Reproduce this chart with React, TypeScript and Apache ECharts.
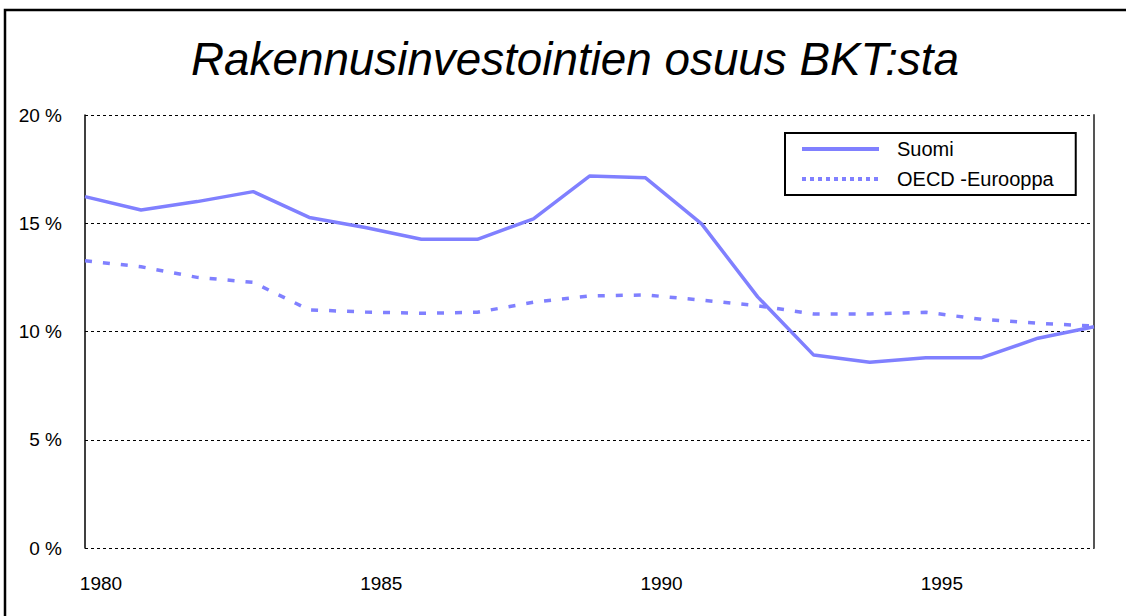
import React, { useEffect, useRef } from "react";
import * as echarts from "echarts";

const years = [
  "1980", "1981", "1982", "1983", "1984", "1985", "1986", "1987", "1988", "1989",
  "1990", "1991", "1992", "1993", "1994", "1995", "1996", "1997", "1998",
];
const suomi = [
  16.23, 15.61, 16.0, 16.46, 15.27, 14.8, 14.26, 14.26, 15.2, 17.18,
  17.1, 14.97, 11.6, 8.91, 8.58, 8.79, 8.79, 9.69, 10.22,
];
const oecd = [
  13.27, 12.99, 12.5, 12.27, 11.0, 10.9, 10.84, 10.89, 11.35, 11.64,
  11.69, 11.45, 11.19, 10.81, 10.81, 10.89, 10.56, 10.38, 10.25,
];
const seriesNames = ["Suomi", "OECD -Eurooppa"];
const title = "Rakennusinvestointien osuus BKT:sta";

const FONT = "'Liberation Sans', Arial, sans-serif";
const LINE = "#8080FF";

export default function App() {
  const ref = useRef<HTMLDivElement>(null);
  useEffect(() => {
    if (!ref.current) return;
    const chart = echarts.init(ref.current, null, { renderer: "svg" });
    chart.setOption({
      animation: false,
      backgroundColor: "#ffffff",
      title: {
        text: title,
        left: 191,
        top: 36,
        padding: 0,
        textStyle: {
          fontFamily: FONT,
          fontStyle: "italic",
          fontWeight: "normal",
          fontSize: 45.8,
          color: "#000",
        },
      },
      graphic: [
        {
          type: "rect",
          shape: { x: 5, y: 10, width: 1300, height: 800 },
          style: { fill: "none", stroke: "#000", lineWidth: 2.5 },
          silent: true,
        },
      ],
      legend: {
        orient: "vertical",
        left: 785,
        top: 133,
        backgroundColor: "#fff",
        borderColor: "#000",
        borderWidth: 2,
        borderRadius: 0,
        padding: [6, 22, 6, 15],
        itemGap: 10,
        itemWidth: 77,
        itemHeight: 20,
        textStyle: {
          fontFamily: FONT,
          fontSize: 20,
          color: "#000",
          padding: [0, 0, 0, 13],
        },
        data: [
          {
            name: seriesNames[0],
            itemStyle: { opacity: 0 },
            lineStyle: { width: 4, type: "solid", color: LINE },
          },
          {
            name: seriesNames[1],
            itemStyle: { opacity: 0 },
            lineStyle: { width: 4, type: [4, 4], color: LINE },
          },
        ],
      },
      grid: { left: 85, right: 32, top: 115, bottom: 68, containLabel: false },
      xAxis: {
        type: "category",
        data: years,
        boundaryGap: false,
        axisLine: { show: false },
        axisTick: { show: false },
        splitLine: { show: false },
        axisLabel: {
          interval: (idx: number) => idx % 5 === 0,
          fontFamily: FONT,
          fontSize: 19,
          color: "#000",
          margin: 26,
          padding: [0, 0, 0, 32],
          hideOverlap: false,
        },
      },
      yAxis: [
        {
          type: "value",
          min: 0,
          max: 20,
          interval: 5,
          axisLine: { show: true, lineStyle: { color: "#000", width: 1.5 } },
          axisTick: { show: false },
          splitLine: { show: true, lineStyle: { color: "#000", width: 1, type: [3, 3] } },
          axisLabel: {
            formatter: "{value} %",
            fontFamily: FONT,
            fontSize: 19,
            color: "#000",
            margin: 23,
          },
        },
        {
          type: "value",
          position: "right",
          min: 0,
          max: 20,
          interval: 5,
          axisLine: { show: true, lineStyle: { color: "#555", width: 2 } },
          axisTick: { show: false },
          axisLabel: { show: false },
          splitLine: { show: false },
        },
      ],
      series: [
        {
          name: seriesNames[0],
          type: "line",
          data: suomi,
          symbol: "none",
          lineStyle: { color: LINE, width: 3.5, type: "solid" },
          itemStyle: { color: LINE },
          z: 3,
        },
        {
          name: seriesNames[1],
          type: "line",
          data: oecd,
          symbol: "none",
          lineStyle: { color: LINE, width: 3.5, type: [7, 11] },
          itemStyle: { color: LINE },
          z: 2,
        },
      ],
    });
    return () => chart.dispose();
  }, []);
  return (
    <div
      ref={ref}
      style={{ position: "fixed", left: 0, top: 0, width: 1126, height: 616 }}
    />
  );
}
